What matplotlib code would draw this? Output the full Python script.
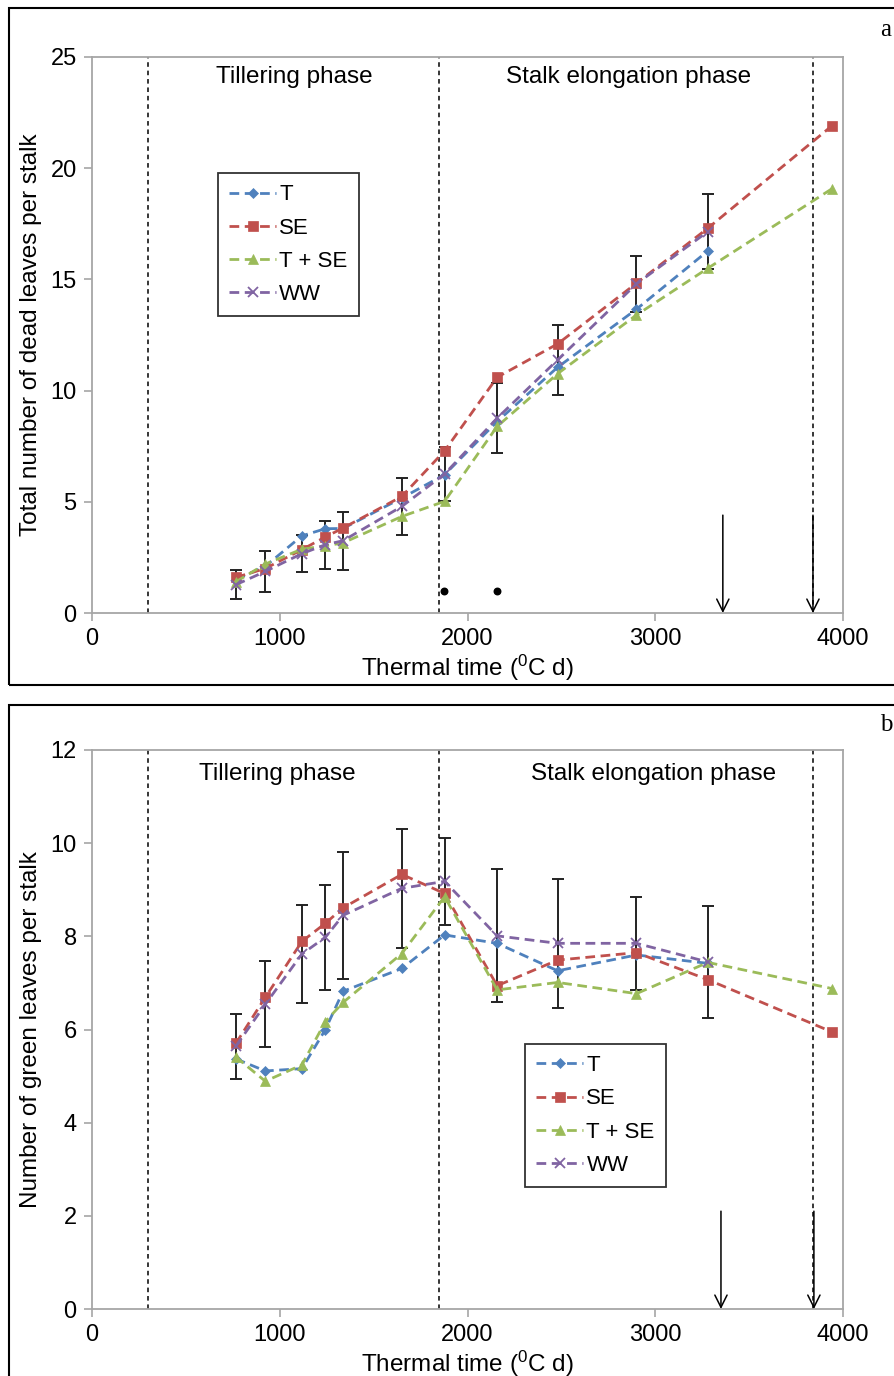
import numpy as np
import matplotlib
matplotlib.use("Agg")
import matplotlib.pyplot as plt
from matplotlib.patches import Rectangle

plt.rcParams["font.family"] = ["Liberation Sans", "DejaVu Sans"]
plt.rcParams["mathtext.fontset"] = "custom"
plt.rcParams["mathtext.rm"] = "Liberation Sans"
plt.rcParams["mathtext.it"] = "Liberation Sans"

# ---- data ----
TT = [766, 923, 1118, 1243, 1337, 1650, 1878, 2158, 2480, 2900, 3280, 3940]   # thermal time, degC d
nan = np.nan
DEAD_T   = [1.50, 2.10, 3.47, 3.79, 3.80, 5.17, 6.22, 8.61, 11.05, 13.66, 16.28, nan]
DEAD_SE  = [1.60, 2.00, 2.85, 3.42, 3.82, 5.24, 7.29, 10.60, 12.10, 14.83, 17.30, 21.90]
DEAD_TSE = [1.40, 2.20, 2.87, 3.02, 3.15, 4.34, 5.02, 8.39, 10.76, 13.40, 15.50, 19.07]
DEAD_WW  = [1.27, 1.87, 2.67, 3.07, 3.25, 4.79, 6.25, 8.76, 11.38, 14.80, 17.15, nan]
DEAD_ERR = [0.66, 0.92, 0.82, 1.08, 1.30, 1.28, 1.20, 1.58, 1.57, 1.27, 1.68, nan]

GREEN_T   = [5.37, 5.11, 5.16, 6.00, 6.82, 7.31, 8.03, 7.85, 7.26, 7.60, 7.42, nan]
GREEN_SE  = [5.70, 6.69, 7.89, 8.28, 8.61, 9.33, 8.92, 6.94, 7.49, 7.65, 7.07, 5.95]
GREEN_TSE = [5.41, 4.89, 5.24, 6.17, 6.58, 7.63, 8.85, 6.85, 7.01, 6.77, 7.44, 6.88]
GREEN_WW  = [5.64, 6.54, 7.62, 7.98, 8.45, 9.03, 9.18, 8.01, 7.85, 7.85, 7.45, nan]
GREEN_ERR = [0.70, 0.92, 1.05, 1.13, 1.37, 1.28, 0.93, 1.43, 1.39, 1.00, 1.20, nan]

SIG_X = [1875, 2158]          # significance dots in panel a
PHASE_LINES = [300, 1850, 3840]
ARROWS_A = [3360, 3840]
ARROWS_B = [3350, 3845]

SERIES = [("T", "#4F81BD", "D", 5), ("SE", "#C0504D", "s", 6.5),
          ("T + SE", "#9BBB59", "^", 7), ("WW", "#8064A2", "x", 7)]

W, H = 894, 1376
fig = plt.figure(figsize=(W / 100, H / 100), dpi=100)

def px_axes(left, top, right, bottom):
    return fig.add_axes([left / W, 1 - bottom / H, (right - left) / W, (bottom - top) / H])

# outer panel frames
for (x0, y0, x1, y1) in [(9, 8, 900, 685), (9, 705, 900, 1390)]:
    fig.patches.append(Rectangle((x0 / W, 1 - y1 / H), (x1 - x0) / W, (y1 - y0) / H,
                                 transform=fig.transFigure, fill=False, ec="black", lw=1.5))
fig.text(886 / W, 1 - 30 / H, "a", family="Liberation Serif", fontsize=18, ha="center", va="center")
fig.text(886 / W, 1 - 725 / H, "b", family="Liberation Serif", fontsize=18, ha="center", va="center")

def panel(ax, data, err, ymax, ystep, ylabel, arrows, arrow_top, phase_y, phase_x, leg_anchor):
    for (lab, col, mk, ms), ys in zip(SERIES, data):
        ax.plot(TT, ys, ls="--", dashes=(3.5, 2), color=col, lw=2, marker=mk, ms=ms,
                mew=1.3 if mk == "x" else 0.5, mec=col, label=lab, zorder=3)
    ax.errorbar(TT, data[3], yerr=err, fmt="none", ecolor="#222222", elinewidth=1.4,
                capsize=4, capthick=1.4, zorder=2)
    for x in PHASE_LINES:
        ax.axvline(x, color="black", ls=(0, (3, 2.5)), lw=1.1, zorder=1)
    for x in arrows:
        ax.annotate("", xy=(x, 0), xytext=(x, arrow_top),
                    arrowprops=dict(arrowstyle="->", color="black", lw=1.1,
                                    mutation_scale=22, shrinkA=0, shrinkB=0))
    ax.text(phase_x[0], phase_y, "Tillering phase", ha="center", va="center", fontsize=17.5)
    ax.text(phase_x[1], phase_y, "Stalk elongation phase", ha="center", va="center", fontsize=17.5)
    ax.set_xlim(0, 4000)
    ax.set_ylim(0, ymax)
    ax.set_xticks([0, 1000, 2000, 3000, 4000])
    ax.set_yticks(np.arange(0, ymax + 0.1, ystep))
    for s in ax.spines.values():
        s.set_color("#A6A6A6")
        s.set_linewidth(1.3)
    ax.tick_params(direction="out", length=6, width=1.2, color="#A6A6A6", labelsize=17, pad=5)
    ax.set_xlabel("Thermal time ($^0$C d)", fontsize=17.5, labelpad=2)
    ax.set_ylabel(ylabel, fontsize=17.5, labelpad=6)
    leg = ax.legend(loc="upper left", bbox_to_anchor=leg_anchor, fontsize=16, frameon=True,
                    fancybox=False, edgecolor="black", handlelength=2.1, handletextpad=0.15,
                    labelspacing=0.55, borderpad=0.5, borderaxespad=0)
    leg.get_frame().set_linewidth(1.3)

axA = px_axes(92, 57, 843, 613)
panel(axA, [DEAD_T, DEAD_SE, DEAD_TSE, DEAD_WW], DEAD_ERR, 25, 5,
      "Total number of dead leaves per stalk", ARROWS_A, 4.4, 24.1, (1077, 2860), (0.168, 0.791))
axA.scatter(SIG_X, [1.0] * len(SIG_X), s=22, color="black", zorder=4)

axB = px_axes(92, 750, 843, 1309)
panel(axB, [GREEN_T, GREEN_SE, GREEN_TSE, GREEN_WW], GREEN_ERR, 12, 2,
      "Number of green leaves per stalk", ARROWS_B, 2.1, 11.48, (987, 2990), (0.577, 0.474))

fig.savefig("out.png", dpi=100)
